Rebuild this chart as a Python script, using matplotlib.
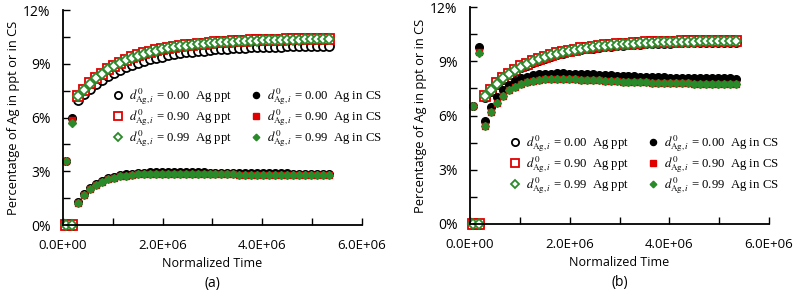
import matplotlib
matplotlib.use('Agg')
import matplotlib.pyplot as plt
from matplotlib.ticker import FuncFormatter, MultipleLocator

plt.rcParams['font.family'] = ['Open Sans', 'DejaVu Sans']
plt.rcParams['mathtext.fontset'] = 'stix'

# normalized time, in units of 1E6
t = [0.06, 0.18, 0.30, 0.42, 0.54, 0.66, 0.78, 0.90, 1.02, 1.14,
     1.26, 1.38, 1.50, 1.62, 1.74, 1.86, 1.98, 2.10, 2.22, 2.34,
     2.46, 2.58, 2.70, 2.82, 2.94, 3.06, 3.18, 3.30, 3.42, 3.54,
     3.66, 3.78, 3.90, 4.02, 4.14, 4.26, 4.38, 4.50, 4.62, 4.74,
     4.86, 4.98, 5.10, 5.22, 5.34]

# panel (a), percentages
ppt_a_000 = [0, 0, 7.0, 7.3, 7.6, 7.85, 8.1, 8.3, 8.5, 8.65,
             8.8, 8.93, 9.05, 9.15, 9.25, 9.33, 9.4, 9.47, 9.53, 9.58,
             9.63, 9.67, 9.71, 9.74, 9.77, 9.8, 9.82, 9.84, 9.86, 9.88,
             9.9, 9.91, 9.92, 9.93, 9.94, 9.95, 9.96, 9.97, 9.97, 9.98,
             9.98, 9.99, 9.99, 10.0, 10.0]
ppt_a_090 = [0, 0, 7.2, 7.55, 7.9, 8.2, 8.45, 8.7, 8.9, 9.07,
             9.22, 9.36, 9.48, 9.58, 9.67, 9.75, 9.82, 9.88, 9.94, 9.99,
             10.03, 10.07, 10.1, 10.13, 10.16, 10.19, 10.21, 10.23, 10.25, 10.27,
             10.29, 10.3, 10.31, 10.32, 10.33, 10.34, 10.35, 10.36, 10.37, 10.37,
             10.38, 10.38, 10.39, 10.39, 10.4]
ppt_a_099 = [0, 0, 7.2, 7.53, 7.88, 8.18, 8.43, 8.68, 8.88, 9.05,
             9.2, 9.34, 9.46, 9.56, 9.65, 9.73, 9.8, 9.86, 9.92, 9.97,
             10.01, 10.05, 10.08, 10.11, 10.14, 10.17, 10.19, 10.21, 10.23, 10.25,
             10.27, 10.28, 10.29, 10.3, 10.31, 10.32, 10.33, 10.34, 10.35, 10.35,
             10.36, 10.36, 10.37, 10.37, 10.38]
cs_a_000 = [3.6, 6.0, 1.3, 1.75, 2.05, 2.3, 2.47, 2.6, 2.7, 2.77,
            2.83, 2.87, 2.9, 2.92, 2.94, 2.95, 2.96, 2.96, 2.96, 2.96,
            2.95, 2.95, 2.94, 2.94, 2.93, 2.93, 2.92, 2.92, 2.91, 2.91,
            2.9, 2.9, 2.89, 2.89, 2.89, 2.88, 2.88, 2.88, 2.87, 2.87,
            2.87, 2.86, 2.86, 2.86, 2.86]
cs_a_090 = [3.55, 5.85, 1.25, 1.7, 2.0, 2.25, 2.42, 2.55, 2.64, 2.71,
            2.76, 2.8, 2.83, 2.85, 2.86, 2.87, 2.87, 2.87, 2.87, 2.86,
            2.86, 2.85, 2.85, 2.84, 2.84, 2.83, 2.83, 2.82, 2.82, 2.81,
            2.81, 2.8, 2.8, 2.8, 2.79, 2.79, 2.79, 2.78, 2.78, 2.78,
            2.78, 2.77, 2.77, 2.77, 2.77]
cs_a_099 = [3.55, 5.7, 1.25, 1.7, 2.0, 2.25, 2.42, 2.55, 2.64, 2.71,
            2.76, 2.8, 2.83, 2.85, 2.86, 2.87, 2.87, 2.87, 2.87, 2.86,
            2.86, 2.85, 2.85, 2.84, 2.84, 2.83, 2.83, 2.82, 2.82, 2.81,
            2.81, 2.8, 2.8, 2.8, 2.79, 2.79, 2.79, 2.78, 2.78, 2.78,
            2.78, 2.77, 2.77, 2.77, 2.77]

# panel (b), percentages
ppt_b_000 = [0, 0, 7.05, 7.37, 7.72, 8.02, 8.27, 8.47, 8.67, 8.82,
             8.97, 9.09, 9.2, 9.3, 9.39, 9.47, 9.54, 9.6, 9.66, 9.71,
             9.75, 9.79, 9.83, 9.86, 9.89, 9.91, 9.93, 9.95, 9.97, 9.99,
             10.0, 10.01, 10.02, 10.03, 10.04, 10.05, 10.06, 10.06, 10.07, 10.07,
             10.08, 10.08, 10.09, 10.09, 10.09]
ppt_b_090 = [0, 0, 7.1, 7.42, 7.77, 8.07, 8.32, 8.52, 8.72, 8.87,
             9.02, 9.14, 9.25, 9.35, 9.44, 9.52, 9.59, 9.65, 9.71, 9.76,
             9.8, 9.84, 9.88, 9.91, 9.94, 9.96, 9.98, 10.0, 10.02, 10.04,
             10.05, 10.06, 10.07, 10.08, 10.09, 10.1, 10.11, 10.11, 10.12, 10.12,
             10.13, 10.13, 10.14, 10.14, 10.14]
ppt_b_099 = [0, 0, 7.08, 7.4, 7.75, 8.05, 8.3, 8.5, 8.7, 8.85,
             9.0, 9.12, 9.23, 9.33, 9.42, 9.5, 9.57, 9.63, 9.69, 9.74,
             9.78, 9.82, 9.86, 9.89, 9.92, 9.94, 9.96, 9.98, 10.0, 10.02,
             10.03, 10.04, 10.05, 10.06, 10.07, 10.08, 10.09, 10.09, 10.1, 10.1,
             10.11, 10.11, 10.12, 10.12, 10.12]
cs_b_000 = [6.5, 9.8, 5.7, 6.45, 7.0, 7.4, 7.7, 7.9, 8.05, 8.15,
            8.22, 8.27, 8.3, 8.32, 8.33, 8.33, 8.32, 8.31, 8.3, 8.28,
            8.27, 8.25, 8.23, 8.22, 8.2, 8.19, 8.17, 8.16, 8.15, 8.14,
            8.13, 8.12, 8.11, 8.1, 8.09, 8.08, 8.08, 8.07, 8.07, 8.06,
            8.06, 8.05, 8.05, 8.05, 8.04]
cs_b_090 = [6.5, 9.5, 5.4, 6.2, 6.7, 7.1, 7.4, 7.6, 7.75, 7.85,
            7.92, 7.97, 8.0, 8.01, 8.02, 8.02, 8.01, 8.0, 7.99, 7.97,
            7.96, 7.94, 7.92, 7.91, 7.89, 7.88, 7.86, 7.85, 7.84, 7.83,
            7.82, 7.81, 7.8, 7.79, 7.78, 7.77, 7.77, 7.76, 7.76, 7.75,
            7.75, 7.74, 7.74, 7.74, 7.73]
cs_b_099 = [6.5, 9.45, 5.4, 6.2, 6.7, 7.1, 7.4, 7.6, 7.75, 7.85,
            7.92, 7.97, 8.0, 8.01, 8.02, 8.02, 8.01, 8.0, 7.99, 7.97,
            7.96, 7.94, 7.92, 7.91, 7.89, 7.88, 7.86, 7.85, 7.84, 7.83,
            7.82, 7.81, 7.8, 7.79, 7.78, 7.77, 7.77, 7.76, 7.76, 7.75,
            7.75, 7.74, 7.74, 7.74, 7.73]

d_labels = ['0.00', '0.90', '0.99']
colors = ['black', '#e00000', '#2a8a2a']
open_markers = ['o', 's', 'D']
filled_markers = ['o', 's', 'D']
open_sizes = [6.5, 6.5, 5.2]
filled_sizes = [5.5, 5.0, 4.2]

fig = plt.figure(figsize=(7.96, 2.97), dpi=100)
ax_a = fig.add_axes([0.0791, 0.2424, 0.3757, 0.7239])
ax_b = fig.add_axes([0.5905, 0.2458, 0.3756, 0.7306])

times = [v * 1e6 for v in t]


def draw(ax, ppt, cs, leg_xy, caption):
    for i in range(3):
        ax.plot(times, ppt[i], linestyle='none', marker=open_markers[i],
                markersize=open_sizes[i], markerfacecolor='white',
                markeredgecolor=colors[i], markeredgewidth=1.3, clip_on=False,
                label=r'$d^{0}_{\mathrm{Ag},i}$' + ' = ' + d_labels[i] + '  Ag ppt')
    for i in range(3):
        ax.plot(times, cs[i], linestyle='none', marker=filled_markers[i],
                markersize=filled_sizes[i], color=colors[i], clip_on=False,
                label=r'$d^{0}_{\mathrm{Ag},i}$' + ' = ' + d_labels[i] + '  Ag in CS')
    ax.set_xlim(0, 6e6)
    ax.set_ylim(0, 12)
    ax.xaxis.set_major_locator(MultipleLocator(2e6))
    ax.xaxis.set_minor_locator(MultipleLocator(1e6))
    ax.yaxis.set_major_locator(MultipleLocator(3))
    ax.yaxis.set_minor_locator(MultipleLocator(1.5))
    ax.xaxis.set_major_formatter(FuncFormatter(lambda x, p: '{:.1E}'.format(x)))
    ax.yaxis.set_major_formatter(FuncFormatter(lambda y, p: '{:.0f}%'.format(y)))
    for s in ['top', 'right']:
        ax.spines[s].set_visible(False)
    for s in ['left', 'bottom']:
        ax.spines[s].set_linewidth(1.3)
    ax.tick_params(which='both', direction='in', width=1.0, length=5)
    ax.tick_params(axis='x', labelsize=9.5, pad=10)
    ax.tick_params(axis='y', labelsize=10, pad=9)
    ax.set_xlabel('Normalized Time', fontsize=9, labelpad=4)
    ax.set_ylabel('Percentatge of Ag in ppt or in CS', fontsize=9.3, labelpad=2)
    ax.legend(ncol=2, loc='upper left', bbox_to_anchor=leg_xy, frameon=False,
              prop={'family': 'Liberation Serif', 'size': 9.2}, handlelength=0.9,
              handletextpad=0.4, columnspacing=1.4, labelspacing=0.05,
              markerscale=0.8, borderpad=0, borderaxespad=0)
    ax.text(0.5, -0.27, caption, transform=ax.transAxes, ha='center',
            va='center', fontsize=10)


draw(ax_a, [ppt_a_000, ppt_a_090, ppt_a_099], [cs_a_000, cs_a_090, cs_a_099],
     (0.166, 0.645), '(a)')
draw(ax_b, [ppt_b_000, ppt_b_090, ppt_b_099], [cs_b_000, cs_b_090, cs_b_099],
     (0.132, 0.418), '(b)')

fig.savefig('out.png', dpi=100)
